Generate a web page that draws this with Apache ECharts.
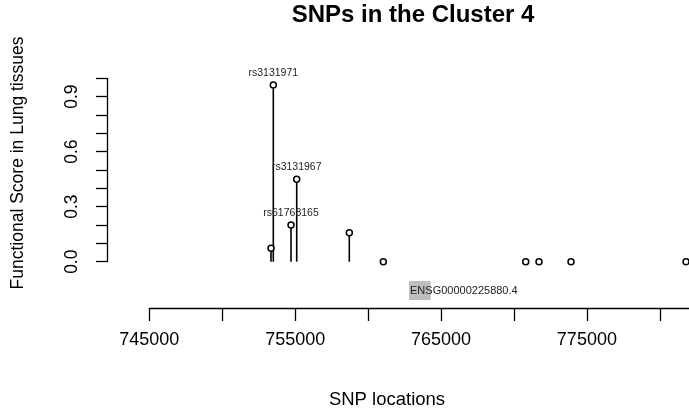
<!DOCTYPE html>
<html>
<head>
<meta charset="utf-8">
<script src="https://cdn.jsdelivr.net/npm/echarts@6/dist/echarts.min.js"></script>
<style>
  html, body { margin: 0; padding: 0; background: #fff; }
  #chart { width: 689px; height: 413px; }
</style>
</head>
<body>
<div id="chart"></div>
<script>
// SNP positions (bp) and functional scores
var snpPos = [753344, 753501, 754715, 755106, 758712, 761043, 770806, 771717, 773911, 781796];
var snpScore = [0.073, 0.964, 0.200, 0.450, 0.158, 0, 0, 0, 0, 0];
var snpName = ["", "rs3131971", "rs61768165", "rs3131967", "", "", "", "", "", ""];

// gene track
var geneStart = [762805];
var geneEnd = [764292];
var geneName = ["ENSG00000225880.4"];
var geneTop = -0.105, geneBottom = -0.209, geneTextY = -0.158;

// axis ticks / labels
var xTicks = [745000, 750000, 755000, 760000, 765000, 770000, 775000, 780000];
var xLabels = [745000, 755000, 765000, 775000];
var yTicks = [0, 0.1, 0.2, 0.3, 0.4, 0.5, 0.6, 0.7, 0.8, 0.9, 1.0];
var yLabels = [0, 0.3, 0.6, 0.9];

var FONT = "Liberation Sans, Arial, sans-serif";

var chart = echarts.init(document.getElementById("chart"));

var stemData = snpPos.map(function (x, i) { return [x, snpScore[i]]; });
var pointData = snpPos.map(function (x, i) { return { value: [x, snpScore[i]], name: snpName[i] }; });
var geneData = geneStart.map(function (s, i) { return [s, geneEnd[i], geneName[i]]; });

chart.setOption({
  animation: false,
  title: [
    { text: "SNPs in the Cluster 4", left: 408, top: -2, textAlign: "center",
      textStyle: { fontFamily: FONT, fontSize: 24, fontWeight: "bold", color: "#000" } },
    { text: "SNP locations", left: 382, top: 385, textAlign: "center",
      textStyle: { fontFamily: FONT, fontSize: 18.5, fontWeight: "normal", color: "#000" } }
  ],
  grid: [
    { left: 107, right: 0, top: 78.3, height: 229.7 },
    { left: 107, top: 78.3, height: 183.4, width: 10 },
    { left: 149.3, right: 0, top: 307, height: 1 }
  ],
  xAxis: [
    { gridIndex: 0, type: "value", min: 742100, max: 782000, show: false },
    { gridIndex: 1, type: "value", min: 0, max: 1, show: false },
    {
      gridIndex: 2, type: "value", min: 745000, max: 782000, position: "bottom",
      axisLine: { show: true, lineStyle: { color: "#000", width: 1.3 } },
      axisTick: { show: true, length: 13, lineStyle: { color: "#000", width: 1.3 }, customValues: xTicks },
      axisLabel: {
        show: true, margin: 23, fontFamily: FONT, fontSize: 18, color: "#000",
        customValues: xLabels,
        formatter: function (v) { return String(v); }
      },
      splitLine: { show: false }
    }
  ],
  yAxis: [
    { gridIndex: 0, type: "value", min: -0.2525, max: 1, show: false },
    {
      gridIndex: 1, type: "value", min: 0, max: 1, position: "left",
      name: "Functional Score in Lung tissues", nameLocation: "middle", nameRotate: 90, nameGap: 80,
      nameTextStyle: { fontFamily: FONT, fontSize: 17.5, color: "#000", padding: [0, 0, 0, 14] },
      axisLine: { show: true, lineStyle: { color: "#000", width: 1.3 } },
      axisTick: { show: true, length: 11, lineStyle: { color: "#000", width: 1.3 }, customValues: yTicks },
      axisLabel: {
        show: true, rotate: 90, margin: 26, fontFamily: FONT, fontSize: 17.5, color: "#000",
        customValues: yLabels,
        formatter: function (v) { return v.toFixed(1); }
      },
      splitLine: { show: false }
    },
    { gridIndex: 2, type: "value", min: 0, max: 1, show: false }
  ],
  series: [
    {
      type: "custom", xAxisIndex: 0, yAxisIndex: 0, data: stemData, silent: true,
      renderItem: function (params, api) {
        var p0 = api.coord([api.value(0), 0]);
        var p1 = api.coord([api.value(0), api.value(1)]);
        return { type: "line", shape: { x1: p0[0], y1: p0[1], x2: p1[0], y2: p1[1] },
          style: { stroke: "#000", lineWidth: 1.6 } };
      }
    },
    {
      type: "scatter", xAxisIndex: 0, yAxisIndex: 0, data: pointData, silent: true,
      symbol: "circle", symbolSize: 6,
      itemStyle: { color: "#fff", borderColor: "#000", borderWidth: 1.5, opacity: 1 },
      label: {
        show: true, position: "top", distance: 3,
        fontFamily: FONT, fontSize: 10.5, color: "#222",
        formatter: function (p) { return p.name; }
      }
    },
    {
      type: "custom", xAxisIndex: 0, yAxisIndex: 0, data: geneData, silent: true,
      renderItem: function (params, api) {
        var a = api.coord([api.value(0), geneTop]);
        var b = api.coord([api.value(1), geneBottom]);
        var t = api.coord([api.value(0), geneTextY]);
        return { type: "group", children: [
          { type: "rect", shape: { x: a[0], y: a[1], width: b[0] - a[0], height: b[1] - a[1] },
            style: { fill: "#bebebe" } },
          { type: "text", style: { x: t[0] + 1, y: t[1], text: geneName[params.dataIndex],
            font: "11px " + FONT, fill: "#222", align: "left", verticalAlign: "middle" } }
        ] };
      }
    }
  ]
});
</script>
</body>
</html>
